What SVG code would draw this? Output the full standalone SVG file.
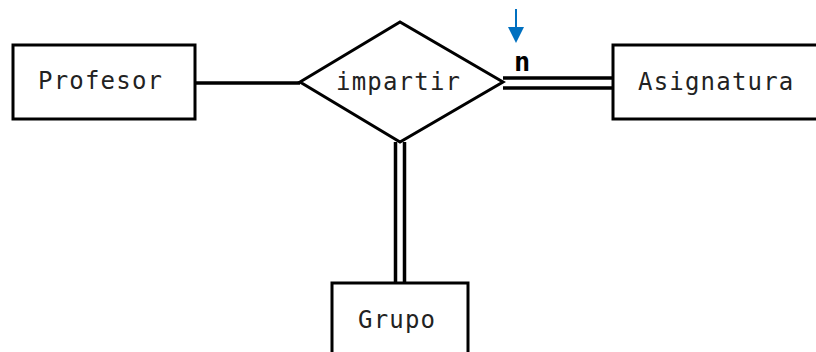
<svg xmlns="http://www.w3.org/2000/svg" width="816" height="352" viewBox="0 0 816 352">
<style>
.box{fill:#fff;stroke:#000;stroke-width:3}
.lbl{font-family:"DejaVu Sans Mono","Liberation Mono",monospace;font-size:24px;letter-spacing:1.2px;fill:#222}
.ln{stroke:#000;stroke-width:3.5;fill:none}
</style>
<rect width="816" height="352" fill="#fff"/>
<g id="connectors">
<line class="ln" x1="195" y1="83" x2="300" y2="83"/>
<line class="ln" x1="503" y1="78" x2="613" y2="78"/>
<line class="ln" x1="503" y1="88" x2="613" y2="88"/>
<line class="ln" x1="395.5" y1="142" x2="395.5" y2="283"/>
<line class="ln" x1="404.5" y1="142" x2="404.5" y2="283"/>
<text x="514" y="71" style="font-family:'DejaVu Sans Mono',monospace;font-size:27px;font-weight:bold;fill:#000">n</text>
<line x1="516" y1="9" x2="516" y2="30" stroke="#0070C0" stroke-width="2"/>
<polygon points="508,27 524,27 516,43" fill="#0070C0"/>
</g>
<g id="profesor">
<rect class="box" x="13" y="45" width="182" height="74"/>
<text class="lbl" x="38" y="89">Profesor</text>
</g>
<g id="impartir">
<polygon class="box" points="300,82 400,22 503,82 400,142"/>
<text class="lbl" x="336" y="90">impartir</text>
</g>
<g id="asignatura">
<rect class="box" x="613" y="45" width="220" height="74"/>
<text class="lbl" x="638" y="90">Asignatura</text>
</g>
<g id="grupo">
<rect class="box" x="332" y="283" width="136" height="90"/>
<text class="lbl" x="358" y="328">Grupo</text>
</g>
</svg>
